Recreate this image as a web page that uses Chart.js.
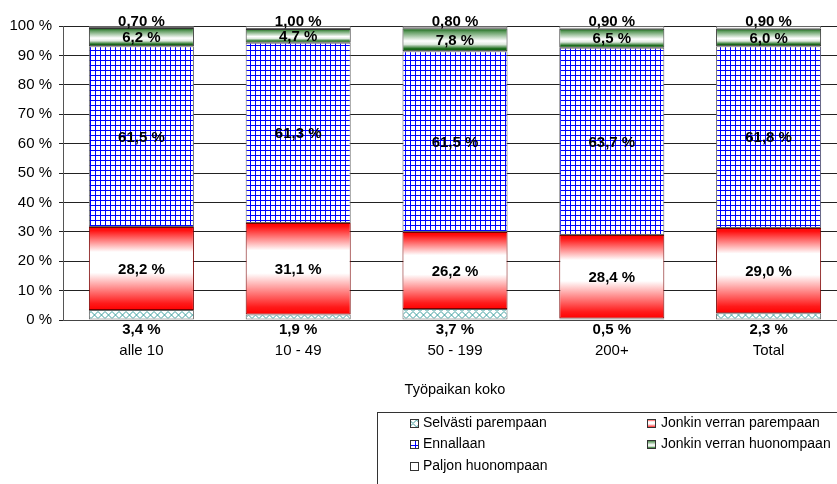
<!DOCTYPE html>
<html>
<head>
<meta charset="utf-8">
<script src="https://cdn.jsdelivr.net/npm/chart.js@4/dist/chart.umd.min.js"></script>
<style>
  html, body { margin: 0; padding: 0; background: #fff; overflow: hidden; width: 837px; height: 484px; }
  canvas { display: block; }
</style>
</head>
<body>
<canvas id="c" width="850" height="484"></canvas>
<script>
// Workplace size categories and answer shares (%)
const categories = ['alle 10', '10 - 49', '50 - 199', '200+', 'Total'];
const seriesNames = ['Selvästi parempaan', 'Jonkin verran parempaan', 'Ennallaan', 'Jonkin verran huonompaan', 'Paljon huonompaan'];
const selvastiParempaan = [3.4, 1.9, 3.7, 0.5, 2.3];
const jonkinVerranParempaan = [28.2, 31.1, 26.2, 28.4, 29.0];
const ennallaan = [61.5, 61.3, 61.5, 63.7, 61.8];
const jonkinVerranHuonompaan = [6.2, 4.7, 7.8, 6.5, 6.0];
const paljonHuonompaan = [0.70, 1.00, 0.80, 0.90, 0.90];
const labelDecimals = [1, 1, 1, 1, 2];
const yTickValues = [0, 10, 20, 30, 40, 50, 60, 70, 80, 90, 100];
const axisTitle = 'Työpaikan koko';

const FONT = '"Liberation Sans", Arial, sans-serif';

// --- fills -------------------------------------------------------------
function makePattern(size, draw) {
  const t = document.createElement('canvas');
  t.width = size; t.height = size;
  const g = t.getContext('2d');
  g.fillStyle = '#fff';
  g.fillRect(0, 0, size, size);
  draw(g);
  return document.getElementById('c').getContext('2d').createPattern(t, 'repeat');
}

const latticePattern = makePattern(7, g => {
  g.strokeStyle = '#3d9d9d';
  g.lineWidth = 1;
  g.beginPath();
  g.moveTo(0, 3.5); g.lineTo(3.5, 0); g.lineTo(7, 3.5); g.lineTo(3.5, 7); g.closePath();
  g.stroke();
});

const gridPattern = makePattern(5, g => {
  g.fillStyle = '#0000ff';
  g.fillRect(0, 0, 5, 1);
  g.fillRect(0, 0, 1, 5);
});

const redStops = [[0, '#ff0000'], [0.04, '#ff1010'], [0.3, '#ffffff'], [0.55, '#ffffff'], [0.92, '#ff1a1a'], [1, '#ff0000']];
const greenStops = [[0, '#0b5a0b'], [0.15, '#5d9a5d'], [0.55, '#ffffff'], [0.7, '#dfeadf'], [0.88, '#1f6e1f'], [1, '#055505']];

function gradient(c, top, bottom, stops) {
  const g = c.createLinearGradient(0, top, 0, bottom);
  stops.forEach(([o, col]) => g.addColorStop(o, col));
  return g;
}

function stackEdges(chart, di, i) {
  let start = 0;
  for (let d = 0; d < di; d++) start += chart.data.datasets[d].data[i];
  const y = chart.scales.y;
  return [y.getPixelForValue(start + chart.data.datasets[di].data[i]), y.getPixelForValue(start)];
}

function bandFill(stops, fallback) {
  return (ctx) => {
    const chart = ctx.chart;
    if (!chart.chartArea || !chart.scales.y || ctx.type !== 'data') return fallback;
    const [top, bottom] = stackEdges(chart, ctx.datasetIndex, ctx.dataIndex);
    return gradient(chart.ctx, top, bottom, stops);
  };
}

// --- plugins -----------------------------------------------------------
const valueLabels = {
  id: 'valueLabels',
  afterDatasetsDraw(chart) {
    const c = chart.ctx;
    const last = chart.data.datasets.length - 1;
    c.save();
    c.font = 'bold 15px ' + FONT;
    c.fillStyle = '#000';
    c.textAlign = 'center';
    chart.data.datasets.forEach((ds, di) => {
      chart.getDatasetMeta(di).data.forEach((bar, i) => {
        const text = ds.data[i].toFixed(labelDecimals[di]).replace('.', ',') + ' %';
        if (di === 0) {
          c.textBaseline = 'alphabetic';
          c.fillText(text, bar.x, bar.base + 14);
        } else if (di === last) {
          c.textBaseline = 'alphabetic';
          c.fillText(text, bar.x, bar.y);
        } else {
          c.textBaseline = 'middle';
          c.fillText(text, bar.x, (bar.y + bar.base) / 2 + 1);
        }
      });
    });
    c.restore();
  }
};

const boxLegend = {
  id: 'boxLegend',
  afterDraw(chart) {
    const c = chart.ctx;
    const rows = [423, 444.5, 466];
    const iconX = [410, 647];
    const textX = [423, 661];
    c.save();
    c.strokeStyle = '#333';
    c.lineWidth = 1;
    c.strokeRect(377.5, 412.5, 520, 100);
    c.font = '14px ' + FONT;
    c.textAlign = 'left';
    c.textBaseline = 'middle';
    seriesNames.forEach((name, k) => {
      const col = k % 2, row = Math.floor(k / 2);
      const ix = iconX[col], cy = rows[row], iy = Math.round(cy - 4.5);
      let fill = '#fff';
      if (k === 0) fill = latticePattern;
      else if (k === 1) fill = gradient(c, iy, iy + 9, redStops);
      else if (k === 2) fill = gridPattern;
      else if (k === 3) fill = gradient(c, iy, iy + 9, greenStops);
      c.fillStyle = fill;
      c.fillRect(ix, iy, 9, 9);
      c.strokeStyle = '#333';
      c.strokeRect(ix + 0.5, iy + 0.5, 8, 8);
      c.fillStyle = '#000';
      c.fillText(name, textX[col], cy);
    });
    c.restore();
  }
};

// --- chart -------------------------------------------------------------
const seriesValues = [selvastiParempaan, jonkinVerranParempaan, ennallaan, jonkinVerranHuonompaan, paljonHuonompaan];
const fills = [latticePattern, bandFill(redStops, '#ff0000'), gridPattern, bandFill(greenStops, '#0b5a0b'), '#ffffff'];
const borders = ['#666', '#7a0000', '#666', '#333', '#666'];

new Chart(document.getElementById('c'), {
  type: 'bar',
  data: {
    labels: categories,
    datasets: seriesNames.map((name, k) => ({
      label: name,
      data: seriesValues[k],
      backgroundColor: fills[k],
      borderColor: borders[k],
      borderWidth: 1,
      borderSkipped: false,
      categoryPercentage: 1,
      barPercentage: 0.67
    }))
  },
  options: {
    responsive: false,
    animation: false,
    devicePixelRatio: 1,
    layout: { padding: { top: 26, right: 3, left: 0, bottom: 0 } },
    plugins: { legend: { display: false }, tooltip: { enabled: false } },
    scales: {
      x: {
        stacked: true,
        grid: { display: false, drawTicks: false },
        border: { display: true, color: '#444', width: 1 },
        ticks: { color: '#000', font: { family: FONT, size: 15 }, padding: 22 },
        title: {
          display: true, text: axisTitle, color: '#000',
          font: { family: FONT, size: 14.5 }, padding: { top: 0, bottom: 85 }
        },
        afterFit(scale) { scale.height = 164; }
      },
      y: {
        stacked: true,
        min: 0, max: 100,
        afterBuildTicks(scale) { scale.ticks = yTickValues.map(v => ({ value: v })); },
        grid: { color: '#222', lineWidth: 1, tickLength: 4, drawTicks: true },
        border: { display: true, color: '#555', width: 1 },
        ticks: { color: '#000', font: { family: FONT, size: 15 }, padding: 7, callback: v => v + ' %' },
        afterFit(scale) { scale.width = 63; }
      }
    }
  },
  plugins: [valueLabels, boxLegend]
});
</script>
</body>
</html>
